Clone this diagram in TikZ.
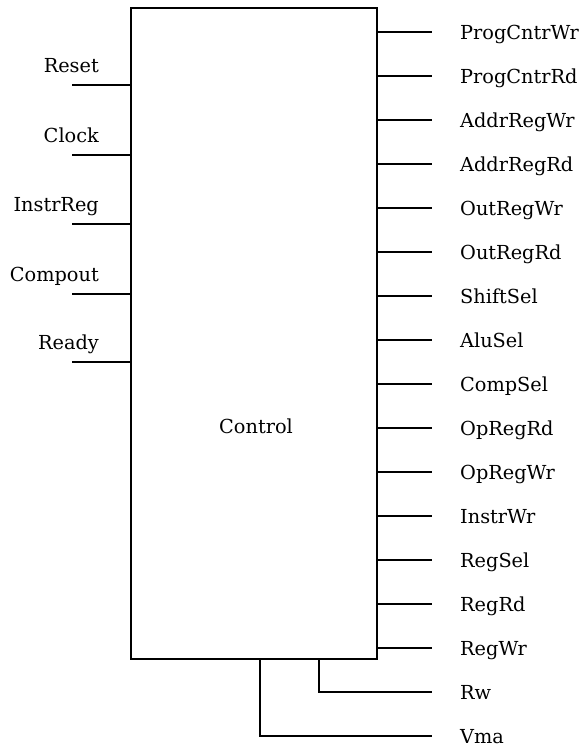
\documentclass[tikz,border=0pt]{standalone}
\usepackage{fontspec}
\setmainfont{DejaVu Serif}
\usepackage{tikz}
\usetikzlibrary{positioning}

\begin{document}
\begin{tikzpicture}[
  x=1pt, y=-1pt,
  font=\fontsize{19.3}{23}\selectfont,
  blk/.style={draw, line width=2pt, minimum width=246pt,
    minimum height=651pt, inner sep=0pt},
  wire/.style={line width=2pt},
  inlbl/.style={anchor=base east, inner sep=0pt},
  outlbl/.style={anchor=base west, inner sep=0pt, yshift=-7pt},
]
\useasboundingbox (0,0) rectangle (585,747);

\node[blk] (ctrl) at (254,333.5) {};
\node (ctrltxt) at (256,426) {Control};

% inputs
\coordinate (rst) at (72,85);
\coordinate (clk) at (72,155);
\coordinate (ireg) at (72,224);
\coordinate (cmp) at (72,294);
\coordinate (rdy) at (72,362);
\draw[wire] (rst) -- (rst -| ctrl.west);
\draw[wire] (clk) -- (clk -| ctrl.west);
\draw[wire] (ireg) -- (ireg -| ctrl.west);
\draw[wire] (cmp) -- (cmp -| ctrl.west);
\draw[wire] (rdy) -- (rdy -| ctrl.west);
\node[inlbl] (rstlbl) at (99,72) {Reset};
\node[inlbl] (clklbl) at (99,142) {Clock};
\node[inlbl] (ireglbl) at (99,211) {InstrReg};
\node[inlbl] (cmplbl) at (99,281) {Compout};
\node[inlbl] (rdylbl) at (99,349) {Ready};

% outputs
\coordinate (pcw) at (432,32);
\coordinate (pcr) at (432,76);
\coordinate (adw) at (432,120);
\coordinate (adr) at (432,164);
\coordinate (orw) at (432,208);
\coordinate (orr) at (432,252);
\coordinate (ssel) at (432,296);
\coordinate (asel) at (432,340);
\coordinate (csel) at (432,384);
\coordinate (oprd) at (432,428);
\coordinate (opwr) at (432,472);
\coordinate (iwr) at (432,516);
\coordinate (rsel) at (432,560);
\coordinate (rrd) at (432,604);
\coordinate (rwr) at (432,648);
\coordinate (rw) at (432,692);
\coordinate (vma) at (432,736);
\draw[wire] (pcw -| ctrl.east) -- (pcw);
\draw[wire] (pcr -| ctrl.east) -- (pcr);
\draw[wire] (adw -| ctrl.east) -- (adw);
\draw[wire] (adr -| ctrl.east) -- (adr);
\draw[wire] (orw -| ctrl.east) -- (orw);
\draw[wire] (orr -| ctrl.east) -- (orr);
\draw[wire] (ssel -| ctrl.east) -- (ssel);
\draw[wire] (asel -| ctrl.east) -- (asel);
\draw[wire] (csel -| ctrl.east) -- (csel);
\draw[wire] (oprd -| ctrl.east) -- (oprd);
\draw[wire] (opwr -| ctrl.east) -- (opwr);
\draw[wire] (iwr -| ctrl.east) -- (iwr);
\draw[wire] (rsel -| ctrl.east) -- (rsel);
\draw[wire] (rrd -| ctrl.east) -- (rrd);
\draw[wire] (rwr -| ctrl.east) -- (rwr);
\draw[wire] (ctrl.south east) ++(-59,0) |- (rw);
\draw[wire] (ctrl.south west) ++(130,0) |- (vma);

\node[outlbl] (pcwlbl) at (460,32) {ProgCntrWr};
\node[outlbl] (pcrlbl) at (460,76) {ProgCntrRd};
\node[outlbl] (adwlbl) at (460,120) {AddrRegWr};
\node[outlbl] (adrlbl) at (460,164) {AddrRegRd};
\node[outlbl] (orwlbl) at (460,208) {OutRegWr};
\node[outlbl] (orrlbl) at (460,252) {OutRegRd};
\node[outlbl] (ssellbl) at (460,296) {ShiftSel};
\node[outlbl] (asellbl) at (460,340) {AluSel};
\node[outlbl] (csellbl) at (460,384) {CompSel};
\node[outlbl] (oprdlbl) at (460,428) {OpRegRd};
\node[outlbl] (opwrlbl) at (460,472) {OpRegWr};
\node[outlbl] (iwrlbl) at (460,516) {InstrWr};
\node[outlbl] (rsellbl) at (460,560) {RegSel};
\node[outlbl] (rrdlbl) at (460,604) {RegRd};
\node[outlbl] (rwrlbl) at (460,648) {RegWr};
\node[outlbl] (rwlbl) at (460,692) {Rw};
\node[outlbl] (vmalbl) at (460,736) {Vma};
\end{tikzpicture}
\end{document}
